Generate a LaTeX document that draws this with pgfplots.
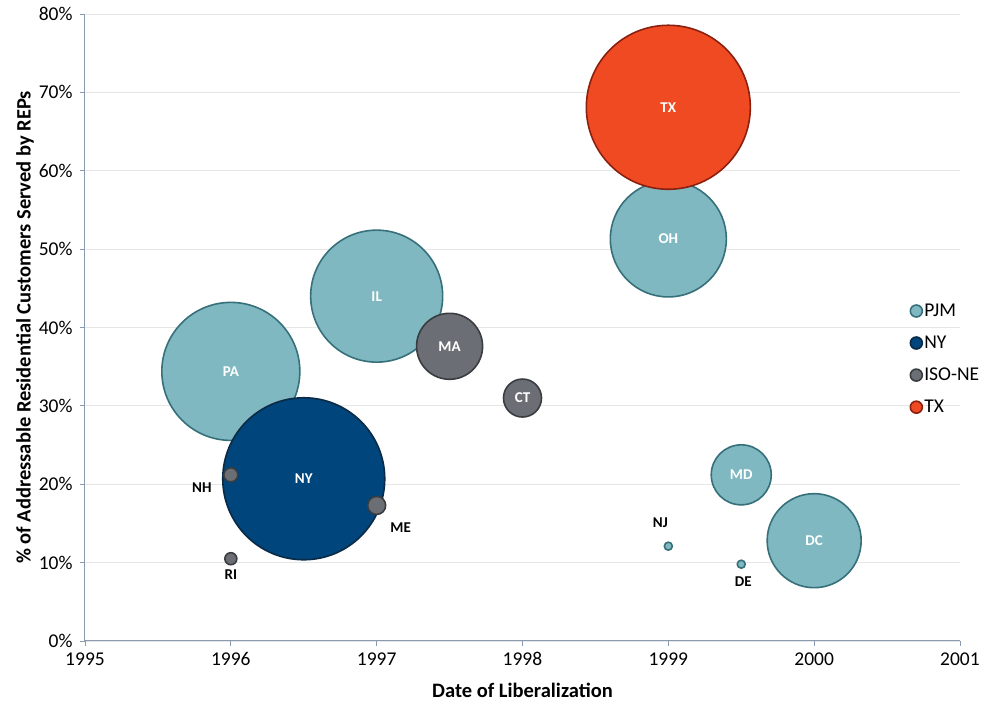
\documentclass[border=0pt]{standalone}
\usepackage{pgfplots}
\pgfplotsset{compat=1.18}
\usepackage{pgfplotstable}
\usepackage{fontspec}
\setmainfont{Carlito}

\definecolor{pjmfill}{HTML}{7FB8C1}
\definecolor{pjmedge}{HTML}{36707A}
\definecolor{nyfill}{HTML}{00457C}
\definecolor{nyedge}{HTML}{0B2A45}
\definecolor{isofill}{HTML}{6B6F75}
\definecolor{isoedge}{HTML}{3A3D40}
\definecolor{txfill}{HTML}{F04A23}
\definecolor{txedge}{HTML}{8B2010}
\definecolor{axisline}{HTML}{8A9BB0}
\definecolor{gridgray}{HTML}{E6E6E6}

% x = year of liberalization, y = share (%), r = bubble radius (pt)
\pgfplotstableread{
x      y     r
1996   34.4  69
1997   44.0  66
1999   51.3  58
1999.5 21.2  30
2000   12.8  47
1999   12.1  4
1999.5 9.8   4
}\pjm
\pgfplotstableread{
x      y     r
1996.5 20.7  81
}\nyiso
\pgfplotstableread{
x      y     r
1997.5 37.6  33
1998   31.0  19
1996   21.2  7
1997   17.3  9
1996   10.5  6
}\isone
\pgfplotstableread{
x      y     r
1999   68.1  82
}\texas

\pgfplotsset{
  bubble/.style n args={2}{
    scatter, only marks, mark=*, forget plot,
    line width=1.6pt,
    scatter/use mapped color={draw=#2, fill=#1},
    visualization depends on={\thisrow{r} \as \rad},
    scatter/@pre marker code/.append style={/tikz/mark size=\rad pt},
  },
  % dx, dy = offset of the state label from the bubble centre
  statelabels/.style={
    only marks, mark=none, forget plot,
    visualization depends on={value \thisrow{lab} \as \labtext},
    visualization depends on={\thisrow{dx} \as \ldx},
    visualization depends on={\thisrow{dy} \as \ldy},
    nodes near coords={\labtext},
    nodes near coords style={anchor=center, font=\fontsize{15}{17}\selectfont\bfseries,
      text=#1, xshift=\ldx pt, yshift=\ldy pt},
  },
}

\begin{document}
\begin{tikzpicture}
\begin{axis}[
  at={(0,0)}, anchor=south west,
  scale only axis, width=875pt, height=627pt,
  xmin=1995, xmax=2001, ymin=0, ymax=80,
  xtick={1995,1996,...,2001}, ytick={0,10,...,80},
  xticklabel style={/pgf/number format/1000 sep={}},
  /pgf/number format/assume math mode=true,
  yticklabel={\pgfmathprintnumber{\tick}\%},
  ticklabel style={font=\fontsize{19.5}{22}\selectfont, text=black},
  xticklabel style={yshift=-3pt},
  yticklabel style={xshift=-4pt},
  tick align=outside, major tick length=5pt,
  tick style={axisline, line width=0.8pt},
  axis x line*=bottom, axis y line*=left,
  axis line style={axisline, line width=1pt, -},
  ymajorgrids, grid style={gridgray, line width=0.8pt},
  clip=false,
  xlabel={Date of Liberalization},
  ylabel={\% of Addressable Residential Customers Served by REPs},
  label style={font=\fontsize{20.5}{24}\selectfont\bfseries},
  xlabel style={yshift=-10pt},
  ylabel style={yshift=-2pt},
  legend style={at={(0.943,0.541)}, anchor=north west, draw=none, fill=none,
    font=\fontsize{19.5}{22}\selectfont, row sep=14pt, inner sep=0pt,
    /tikz/every even column/.append style={column sep=3pt}},
  legend cell align=left,
]
\addplot[bubble={pjmfill}{pjmedge}] table[x=x, y=y] {\pjm};
\addplot[bubble={nyfill}{nyedge}] table[x=x, y=y] {\nyiso};
\addplot[bubble={isofill}{isoedge}] table[x=x, y=y] {\isone};
\addplot[bubble={txfill}{txedge}] table[x=x, y=y] {\texas};

\addplot[statelabels=white] table[x=x, y=y] {
x      y     lab  dx  dy
1996   34.4  PA   0   0
1997   44.0  IL   0   0
1999   51.3  OH   0   0
1999.5 21.2  MD   0   0
2000   12.8  DC   0   0
1996.5 20.7  NY   0   0
1997.5 37.6  MA   0   0
1998   31.0  CT   0   0
1999   68.1  TX   0   0
};
\addplot[statelabels=black] table[x=x, y=y] {
x      y     lab  dx   dy
1999   12.1  NJ   -8   23
1999.5 9.8   DE   2    -17
1996   21.2  NH   -29  -13
1997   17.3  ME   24   -22
1996   10.5  RI   0    -16
};

\addlegendimage{only marks, mark=*, mark size=6pt, mark options={fill=pjmfill, draw=pjmedge, line width=1.6pt}}
\addlegendentry{PJM}
\addlegendimage{only marks, mark=*, mark size=6pt, mark options={fill=nyfill, draw=nyedge, line width=1.6pt}}
\addlegendentry{NY}
\addlegendimage{only marks, mark=*, mark size=6pt, mark options={fill=isofill, draw=isoedge, line width=1.6pt}}
\addlegendentry{ISO-NE}
\addlegendimage{only marks, mark=*, mark size=6pt, mark options={fill=txfill, draw=txedge, line width=1.6pt}}
\addlegendentry{TX}
\end{axis}
\pgfresetboundingbox
\path (-85pt,-60pt) rectangle (908pt,641pt);
\end{tikzpicture}
\end{document}
